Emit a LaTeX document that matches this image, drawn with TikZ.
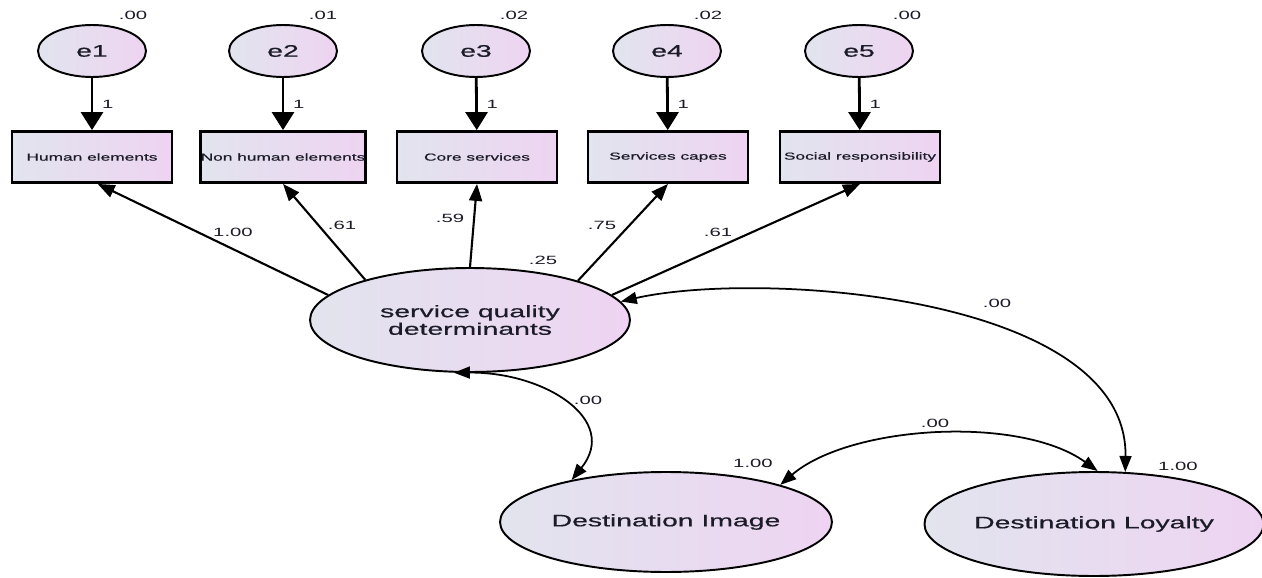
\documentclass[tikz,border=0pt]{standalone}
\usepackage{fontspec}
\setmainfont{Liberation Sans}[FakeStretch=1.7]
\newfontfamily\heavyfont{Liberation Sans}[FakeStretch=1.7, FakeBold=0.6]
\usetikzlibrary{arrows.meta,shapes.geometric}
\definecolor{amosleft}{RGB}{226,228,238}
\definecolor{amosright}{RGB}{238,212,242}
\definecolor{amostext}{RGB}{28,28,40}

\begin{document}
\begin{tikzpicture}[
  x=0.02cm, y=-0.02cm,
  shaded/.style={draw, left color=amosleft, right color=amosright, inner sep=0pt, text=amostext},
  latent/.style={shaded, ellipse, line width=1.1pt, font=\heavyfont\fontsize{9.5}{10}\selectfont, align=center},
  errvar/.style={shaded, ellipse, line width=1.1pt, minimum width=2.16cm, minimum height=1.04cm,
    font=\heavyfont\fontsize{9.5}{10}\selectfont},
  observed/.style={shaded, rectangle, line width=1.6pt, minimum width=3.2cm, minimum height=1.02cm,
    font=\heavyfont\fontsize{5.8}{6}\selectfont},
  num/.style={font=\fontsize{6.8}{7}\selectfont, text=amostext, inner sep=0pt},
  errpath/.style={line width=1.6pt, -{Triangle[length=0.36cm, width=0.44cm]}},
  loading/.style={line width=1.2pt, -{Triangle[length=0.34cm, width=0.26cm]}},
  covpath/.style={line width=1pt, {Triangle[length=0.32cm, width=0.24cm]}-{Triangle[length=0.32cm, width=0.24cm]}}
]
  \useasboundingbox (0,0) rectangle (1262,578);

  % error terms and indicators
  \node[errvar] (e1) at (92,51) {e1};
  \node[errvar] (e2) at (283,51) {e2};
  \node[errvar] (e3) at (476,51) {e3};
  \node[errvar] (e4) at (667,51) {e4};
  \node[errvar] (e5) at (859,51) {e5};
  \node[observed] (b1) at (92,157) {Human elements};
  \node[observed] (b2) at (283,157) {Non human elements};
  \node[observed] (b3) at (477,157) {Core services};
  \node[observed] (b4) at (668,157) {Services capes};
  \node[observed] (b5) at (860,157) {Social responsibility};
  \node[num] at (133,15) {.00};
  \node[num] at (323,15) {.01};
  \node[num] at (514,15) {.02};
  \node[num] at (708,15) {.02};
  \node[num] at (907,15) {.00};

  \draw[errpath] (e1) -- node[num,right=5pt] {1} (b1);
  \draw[errpath] (e2) -- node[num,right=5pt] {1} (b2);
  \draw[errpath] (e3) -- node[num,right=5pt] {1} (b3);
  \draw[errpath] (e4) -- node[num,right=5pt] {1} (b4);
  \draw[errpath] (e5) -- node[num,right=5pt] {1} (b5);

  % latent variables
  \node[latent, minimum width=6.4cm, minimum height=2.08cm] (sqd) at (470,320)
    {service quality\\determinants};
  \node[latent, minimum width=6.64cm, minimum height=2cm] (di) at (666,522) {Destination Image};
  \node[latent, minimum width=6.64cm, minimum height=2.08cm] (dl) at (1094,524) {Destination Loyalty};
  \node[num] at (543,260) {.25};
  \node[num] at (753,463) {1.00};
  \node[num] at (1178,466) {1.00};

  \draw[loading] (sqd.170) -- (b1.-78);
  \draw[loading] (sqd.159) -- (b2.south);
  \draw[loading] (sqd.90) -- (b3.south);
  \draw[loading] (sqd.20) -- (b4.south);
  \draw[loading] (sqd.10) -- (b5.south);
  \node[num] at (233,232) {1.00};
  \node[num] at (342,225) {.61};
  \node[num] at (450,218) {.59};
  \node[num] at (602,225) {.75};
  \node[num] at (718,232) {.61};

  % covariances
  \draw[covpath] (sqd.253) .. controls (545,372) and (620,420) .. (di.156);
  \draw[covpath] (sqd.7) .. controls (760,270) and (1128,295) .. (dl.59);
  \draw[covpath] (di.18) .. controls (850,425) and (1020,415) .. (dl.86);
  \node[num] at (588,400) {.00};
  \node[num] at (997,303) {.00};
  \node[num] at (935,423) {.00};
\end{tikzpicture}
\end{document}
